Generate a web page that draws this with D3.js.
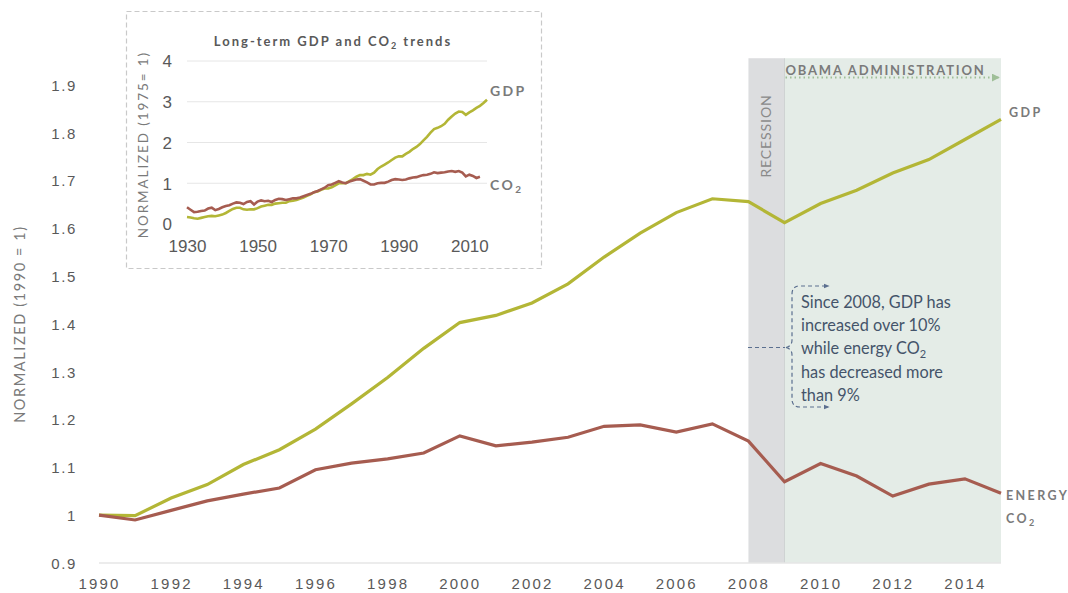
<!DOCTYPE html>
<html>
<head>
<meta charset="utf-8">
<script src="https://cdn.jsdelivr.net/npm/d3@7"></script>
<style>
  body { margin: 0; background: #fff; }
  svg { display: block; font-family: Lato, "Open Sans", sans-serif; }
</style>
</head>
<body>
<svg id="chart" width="1068" height="593"></svg>
<script>
// main chart, 1990 = 1
const years = d3.range(1990, 2016);
const gdp = [1.000, 0.999, 1.036, 1.064, 1.106, 1.137, 1.180, 1.233, 1.288, 1.349, 1.403,
             1.418, 1.444, 1.484, 1.540, 1.590, 1.633, 1.662, 1.656, 1.612, 1.652,
             1.680, 1.716, 1.744, 1.786, 1.828];
const co2 = [1.000, 0.990, 1.010, 1.030, 1.044, 1.057, 1.095, 1.109, 1.118, 1.130, 1.166,
             1.145, 1.153, 1.163, 1.186, 1.189, 1.174, 1.191, 1.155, 1.070, 1.108,
             1.082, 1.040, 1.065, 1.076, 1.046];
const yTicks = [0.9, 1, 1.1, 1.2, 1.3, 1.4, 1.5, 1.6, 1.7, 1.8, 1.9];
const xTicks = d3.range(1990, 2016, 2);
const recession = [2008, 2009];
const obama = [2009, 2015];

// inset, 1975 = 1
const insetGdpYears = d3.range(1930, 2016);
const insetGdp = [0.17, 0.16, 0.14, 0.13, 0.15, 0.17, 0.19, 0.20, 0.19, 0.21,
                  0.23, 0.27, 0.32, 0.37, 0.40, 0.40, 0.36, 0.35, 0.36, 0.36,
                  0.39, 0.43, 0.45, 0.47, 0.47, 0.50, 0.51, 0.52, 0.52, 0.56,
                  0.57, 0.59, 0.62, 0.65, 0.69, 0.73, 0.78, 0.80, 0.84, 0.87,
                  0.87, 0.90, 0.95, 1.00, 1.00, 1.00, 1.05, 1.10, 1.16, 1.20,
                  1.20, 1.23, 1.21, 1.26, 1.35, 1.41, 1.46, 1.51, 1.57, 1.63,
                  1.66, 1.66, 1.72, 1.77, 1.84, 1.89, 1.96, 2.05, 2.14, 2.24,
                  2.33, 2.36, 2.40, 2.46, 2.56, 2.64, 2.71, 2.76, 2.75, 2.68,
                  2.74, 2.79, 2.85, 2.90, 2.97, 3.05];
const insetCo2Years = d3.range(1930, 2014);
const insetCo2 = [0.41, 0.35, 0.29, 0.30, 0.32, 0.33, 0.38, 0.40, 0.34, 0.37,
                  0.41, 0.44, 0.46, 0.50, 0.53, 0.52, 0.49, 0.54, 0.56, 0.48,
                  0.55, 0.58, 0.56, 0.57, 0.54, 0.59, 0.62, 0.61, 0.59, 0.61,
                  0.63, 0.63, 0.65, 0.68, 0.71, 0.74, 0.78, 0.81, 0.85, 0.89,
                  0.95, 0.97, 1.01, 1.05, 1.02, 1.00, 1.04, 1.07, 1.09, 1.10,
                  1.06, 1.02, 0.97, 0.97, 1.00, 1.01, 1.01, 1.04, 1.08, 1.10,
                  1.09, 1.08, 1.09, 1.12, 1.14, 1.15, 1.18, 1.20, 1.21, 1.23,
                  1.27, 1.25, 1.26, 1.27, 1.29, 1.30, 1.28, 1.30, 1.26, 1.17,
                  1.21, 1.18, 1.13, 1.16];
const insetYTicks = [0, 1, 2, 3, 4];
const insetXTicks = [1930, 1950, 1970, 1990, 2010];

const gdpColor = "#b3b636", co2Color = "#a65c50";
const textGrey = "#595959";

const svg = d3.select("#chart");

// scales for the main chart
let x = d3.scaleLinear().domain([1990, 2015]).range([99, 1001]);
let y = d3.scaleLinear().domain([0.9, 1.9]).range([563, 85]);
const bandTop = 1.956;

// shaded periods
svg.append("rect")
   .attr("x", x(recession[0])).attr("width", x(recession[1]) - x(recession[0]))
   .attr("y", y(bandTop)).attr("height", y(0.9) - y(bandTop))
   .attr("fill", "#dcdddf");
svg.append("rect")
   .attr("x", x(obama[0])).attr("width", x(obama[1]) - x(obama[0]))
   .attr("y", y(bandTop)).attr("height", y(0.9) - y(bandTop))
   .attr("fill", "#e4ece7");
svg.append("line")
   .attr("x1", x(obama[0])).attr("x2", x(obama[0]))
   .attr("y1", y(bandTop)).attr("y2", y(0.9))
   .attr("stroke", "#cfd3d3").attr("stroke-width", 1);

// baseline
svg.append("line")
   .attr("x1", x(1990)).attr("x2", x(2015))
   .attr("y1", y(0.9)).attr("y2", y(0.9))
   .attr("stroke", "#e6e6e6").attr("stroke-width", 1.5);

// axes
let yAxis = svg.append("g")
   .attr("transform", `translate(${x(1990) - 19},0)`)
   .call(d3.axisLeft(y).tickValues(yTicks).tickSize(0).tickFormat(d3.format("")));
yAxis.select(".domain").remove();
yAxis.selectAll("text")
   .attr("fill", textGrey).style("font-size", "15px").style("letter-spacing", "1.6px")
   .attr("dy", "0.35em");

let xAxis = svg.append("g")
   .attr("transform", `translate(0,${y(0.9) + 12})`)
   .call(d3.axisBottom(x).tickValues(xTicks).tickSize(0).tickFormat(d3.format("d")));
xAxis.select(".domain").remove();
xAxis.selectAll("text")
   .attr("fill", textGrey).style("font-size", "15px").style("letter-spacing", "2.2px")
   .attr("dy", "0.71em");

svg.append("text")
   .attr("transform", `translate(25,${y(1.4)}) rotate(-90)`)
   .attr("text-anchor", "middle")
   .attr("fill", "#7a7a7a").style("font-size", "14.5px").style("letter-spacing", "1.6px")
   .text("NORMALIZED (1990 = 1)");

// main lines
let line = d3.line().x((d, i) => x(years[i])).y(d => y(d));
svg.append("path").datum(gdp).attr("d", line)
   .attr("fill", "none").attr("stroke", gdpColor).attr("stroke-width", 3.2);
svg.append("path").datum(co2).attr("d", line)
   .attr("fill", "none").attr("stroke", co2Color).attr("stroke-width", 3.2);

// series labels
const lblStyle = sel => sel.attr("fill", "#7a7a7a").style("font-size", "12.5px")
   .style("font-weight", "bold").style("letter-spacing", "2.4px");
svg.append("text").attr("x", 1009).attr("y", 117).call(lblStyle).text("GDP");
svg.append("text").attr("x", 1006).attr("y", 500).call(lblStyle).text("ENERGY");
let co2Lbl = svg.append("text").attr("x", 1006).attr("y", 523).call(lblStyle);
co2Lbl.append("tspan").text("CO");
co2Lbl.append("tspan").attr("dy", 3).style("font-size", "9px").text("2");

// recession label
svg.append("text")
   .attr("transform", `translate(${(x(recession[0]) + x(recession[1])) / 2 + 5},136) rotate(-90)`)
   .attr("text-anchor", "middle")
   .attr("fill", "#8a8a8a").style("font-size", "14px").style("letter-spacing", "0.9px")
   .text("RECESSION");

// obama arrow
const defs = svg.append("defs");
defs.append("marker").attr("id", "greenArrow")
   .attr("viewBox", "0 0 10 10").attr("refX", 9).attr("refY", 5)
   .attr("markerWidth", 4).attr("markerHeight", 4).attr("orient", "auto")
   .append("path").attr("d", "M0,0L10,5L0,10z").attr("fill", "#9fbf98");
defs.append("marker").attr("id", "blueArrow")
   .attr("viewBox", "0 0 10 10").attr("refX", 9).attr("refY", 5)
   .attr("markerWidth", 5).attr("markerHeight", 5).attr("orient", "auto")
   .append("path").attr("d", "M0,1L10,5L0,9z").attr("fill", "#5b6f8f");

svg.append("line")
   .attr("x1", x(obama[0]) + 1).attr("x2", x(obama[1]) - 2)
   .attr("y1", 77.5).attr("y2", 77.5)
   .attr("stroke", "#9fbf98").attr("stroke-width", 2).attr("stroke-dasharray", "1.5,3")
   .attr("marker-end", "url(#greenArrow)");
svg.append("text")
   .attr("x", x(obama[0]) + 1).attr("y", 75)
   .attr("fill", "#7a7a7a").style("font-size", "13px").style("font-weight", "bold")
   .style("letter-spacing", "1.8px")
   .text("OBAMA ADMINISTRATION");

// annotation with brace
const noteLines = ["Since 2008, GDP has", "increased over 10%", "while energy CO|2", "has decreased more", "than 9%"];
let note = svg.append("g");
noteLines.forEach((t, i) => {
  let tx = note.append("text").attr("x", 801).attr("y", 308 + i * 23.2)
     .attr("fill", "#44546a").style("font-size", "16.3px");
  let parts = t.split("|");
  tx.append("tspan").text(parts[0]);
  if (parts[1]) tx.append("tspan").attr("dy", 4).style("font-size", "11px").text(parts[1]);
});
const braceStyle = sel => sel.attr("fill", "none").attr("stroke", "#5b6f8f")
   .attr("stroke-width", 1.2).attr("stroke-dasharray", "4,3");
svg.append("path").call(braceStyle)
   .attr("d", "M748,347.5L785,347.5");
svg.append("path").call(braceStyle)
   .attr("d", "M786,347.5Q792,346 792,340L792,294Q792,286 800,286L829,286")
   .attr("marker-end", "url(#blueArrow)");
svg.append("path").call(braceStyle)
   .attr("d", "M786,347.5Q792,349 792,355L792,399Q792,407 800,407L829,407")
   .attr("marker-end", "url(#blueArrow)");

// ---- inset chart ----
let inset = svg.append("g");
inset.append("rect")
   .attr("x", 126.5).attr("y", 11.5).attr("width", 415).attr("height", 257)
   .attr("fill", "#fff").attr("stroke", "#c9c9c9").attr("stroke-width", 1.2)
   .attr("stroke-dasharray", "5,3");

let ix = d3.scaleLinear().domain([1930, 2015]).range([187, 487]);
let iy = d3.scaleLinear().domain([0, 4]).range([224, 61]);

inset.selectAll(".igrid").data(insetYTicks.slice(1)).enter().append("line")
   .attr("x1", ix(1930)).attr("x2", ix(2015))
   .attr("y1", d => iy(d)).attr("y2", d => iy(d))
   .attr("stroke", "#e6e6e6").attr("stroke-width", 1);

let iyAxis = inset.append("g")
   .attr("transform", `translate(${ix(1930) - 12},0)`)
   .call(d3.axisLeft(iy).tickValues(insetYTicks).tickSize(0).tickFormat(d3.format("d")));
iyAxis.select(".domain").remove();
iyAxis.selectAll("text").attr("fill", textGrey).style("font-size", "17px").attr("dy", "0.35em");

let ixAxis = inset.append("g")
   .attr("transform", `translate(0,${iy(0) + 13})`)
   .call(d3.axisBottom(ix).tickValues(insetXTicks).tickSize(0).tickFormat(d3.format("d")));
ixAxis.select(".domain").remove();
ixAxis.selectAll("text").attr("fill", textGrey).style("font-size", "17px").attr("dy", "0.71em");

inset.append("text")
   .attr("transform", `translate(148,${iy(1.95)}) rotate(-90)`)
   .attr("text-anchor", "middle")
   .attr("fill", "#7a7a7a").style("font-size", "13.5px").style("letter-spacing", "1.9px")
   .text("NORMALIZED (1975= 1)");

let title = inset.append("text")
   .attr("x", 333).attr("y", 46).attr("text-anchor", "middle")
   .attr("fill", textGrey).style("font-size", "13px").style("font-weight", "bold")
   .style("letter-spacing", "2px");
title.append("tspan").text("Long-term GDP and CO");
title.append("tspan").attr("dy", 3).style("font-size", "9px").text("2");
title.append("tspan").attr("dy", -3).text(" trends");

let igdpLine = d3.line().x((d, i) => ix(insetGdpYears[i])).y(d => iy(d));
let ico2Line = d3.line().x((d, i) => ix(insetCo2Years[i])).y(d => iy(d));
inset.append("path").datum(insetGdp).attr("d", igdpLine)
   .attr("fill", "none").attr("stroke", gdpColor).attr("stroke-width", 2.6);
inset.append("path").datum(insetCo2).attr("d", ico2Line)
   .attr("fill", "none").attr("stroke", co2Color).attr("stroke-width", 2.6);

inset.append("text").attr("x", 490).attr("y", 96).call(lblStyle)
   .style("font-size", "14px").text("GDP");
let ico2Lbl = inset.append("text").attr("x", 490).attr("y", 190).call(lblStyle)
   .style("font-size", "14px");
ico2Lbl.append("tspan").text("CO");
ico2Lbl.append("tspan").attr("dy", 3).style("font-size", "10px").text("2");
</script>
</body>
</html>
